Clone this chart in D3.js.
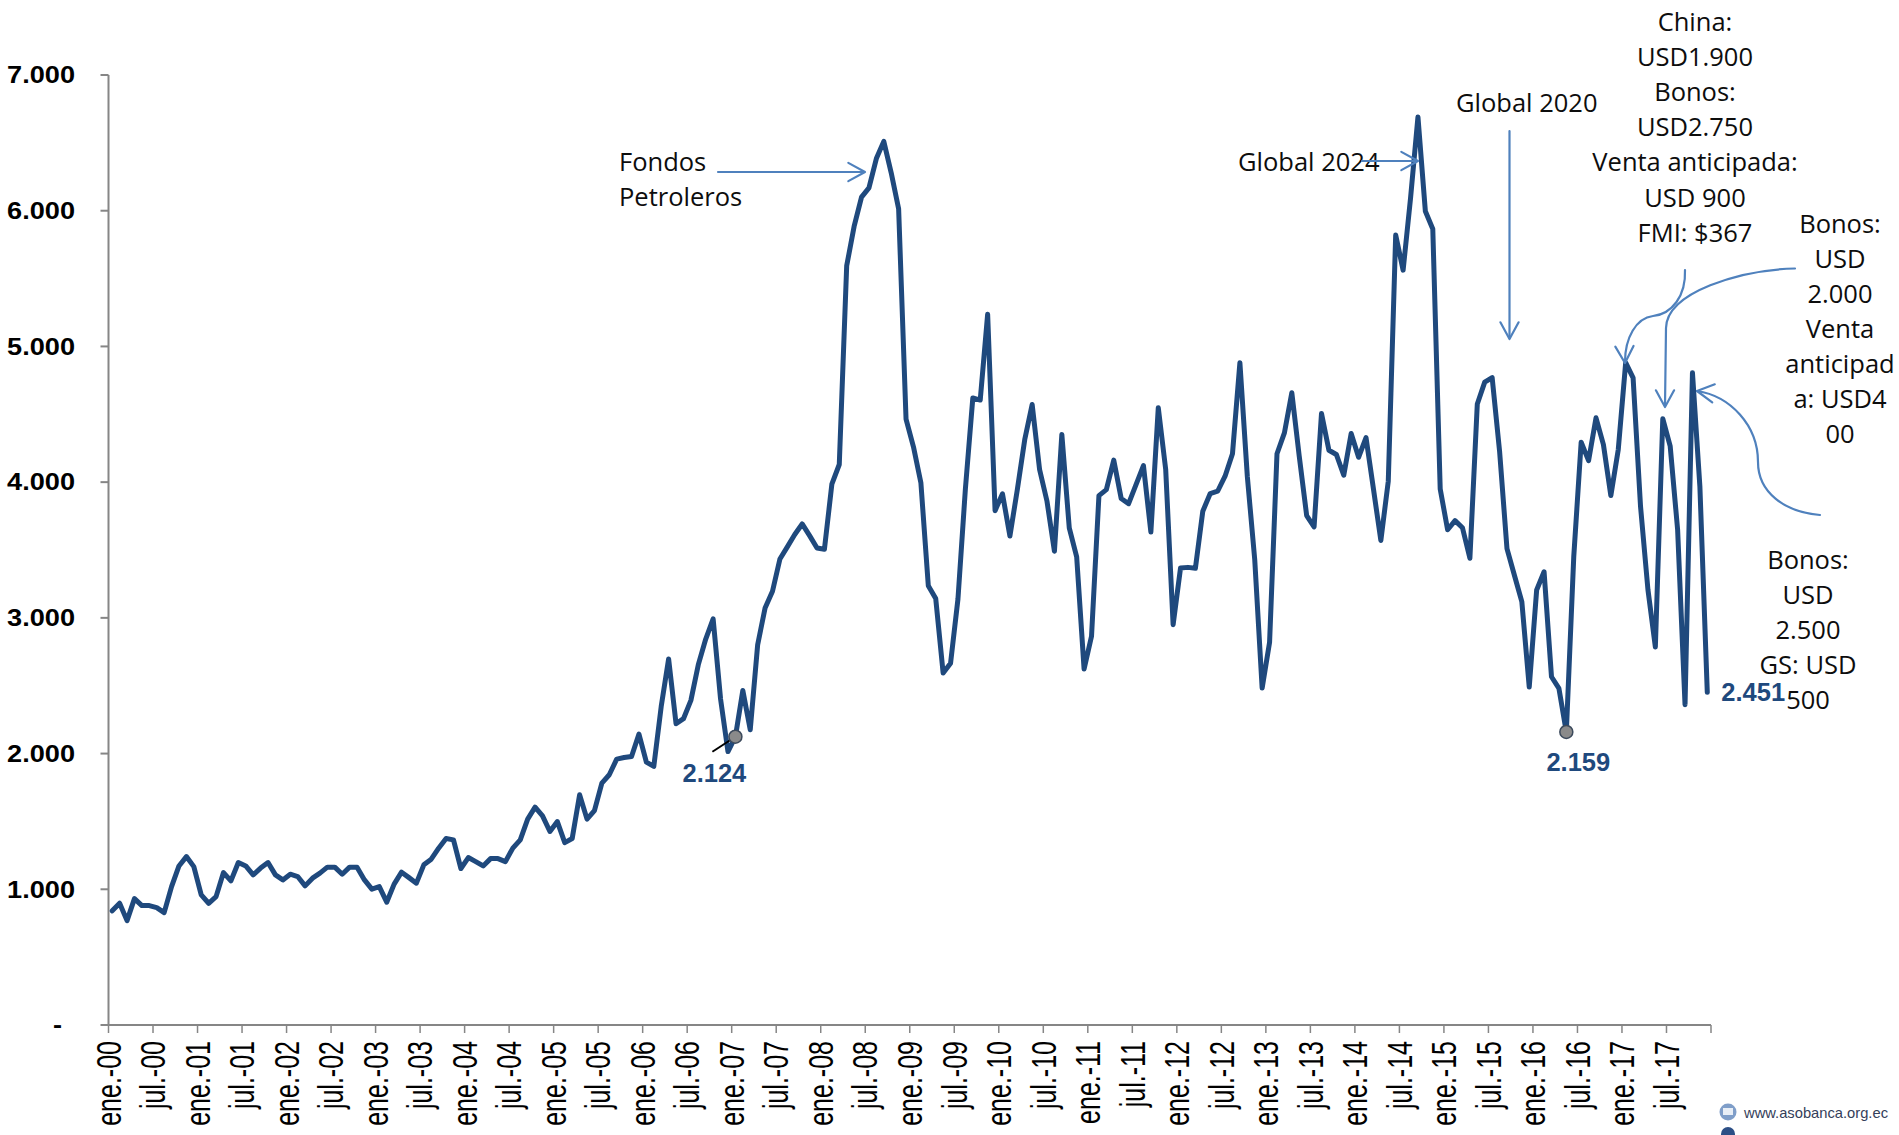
<!DOCTYPE html>
<html><head><meta charset="utf-8">
<script src="https://cdn.jsdelivr.net/npm/d3@7"></script>
<style>body{margin:0;background:#fff} svg{display:block}</style>
</head><body>
<svg id="chart" width="1899" height="1135"></svg>
<script>
// ---------- DATA ----------
const years = ["00","01","02","03","04","05","06","07","08","09","10","11","12","13","14","15","16","17"];
const monthNames = ["ene.","feb.","mar.","abr.","may.","jun.","jul.","ago.","sep.","oct.","nov.","dic."];
const categories = years.flatMap(y => monthNames.map(m => m + "-" + y));

const reservas = [
  841, 897, 769, 931, 880, 880, 865, 828, 1020, 1172, 1241, 1167,      // 2000
  959, 897, 946, 1123, 1062, 1197, 1172, 1106, 1156, 1197, 1106, 1069,  // 2001
  1111, 1094, 1025, 1082, 1119, 1163, 1163, 1111, 1163, 1163, 1069, 1001, // 2002
  1020, 905, 1038, 1126, 1086, 1045, 1180, 1222, 1303, 1374, 1364, 1153, // 2003
  1234, 1204, 1172, 1226, 1226, 1204, 1303, 1364, 1517, 1605, 1541, 1426, // 2004
  1499, 1344, 1374, 1696, 1517, 1580, 1782, 1844, 1959, 1971, 1979, 2144, // 2005
  1937, 1905, 2347, 2697, 2220, 2257, 2392, 2655, 2844, 2992, 2402, 2015, // 2006
  2124, 2465, 2175, 2802, 3073, 3196, 3434, 3523, 3614, 3692, 3606, 3515, // 2007
  3505, 3985, 4130, 5594, 5884, 6100, 6168, 6384, 6511, 6279, 6015, 4465, // 2008
  4260, 3996, 3237, 3142, 2593, 2666, 3140, 3950, 4620, 4605, 5237, 3790, // 2009
  3914, 3603, 3945, 4314, 4572, 4093, 3859, 3491, 4351, 3663, 3449, 2623, // 2010
  2864, 3901, 3945, 4162, 3880, 3841, 3982, 4122, 3632, 4548, 4093, 2950, // 2011
  3368, 3372, 3365, 3786, 3916, 3933, 4044, 4209, 4880, 4044, 3429, 2483, // 2012
  2819, 4209, 4363, 4659, 4191, 3754, 3670, 4506, 4235, 4204, 4051, 4358, // 2013
  4183, 4328, 3950, 3570, 4007, 5821, 5562, 6092, 6690, 5996, 5865, 3949, // 2014
  3649, 3716, 3664, 3439, 4576, 4737, 4771, 4230, 3510, 3314, 3120, 2490, // 2015
  3205, 3340, 2566, 2480, 2159, 3450, 4294, 4159, 4474, 4277, 3901, 4240, // 2016
  4880, 4769, 3822, 3208, 2785, 4467, 4265, 3650, 2360, 4806, 3970, 2451  // 2017
];

const yTicks = [0, 1000, 2000, 3000, 4000, 5000, 6000, 7000];
const xTickIndexes = d3.range(0, categories.length + 1, 6);
const xTickLabels = categories.filter((d, i) => i % 6 === 0);

const markedPoints = [
  { index: 84,  label: "2.124" },
  { index: 196, label: "2.159" }
];
const lastPoint = { index: 215, label: "2.451" };

const annotations = {
  fondos: ["Fondos", "Petroleros"],
  global2024: ["Global 2024"],
  global2020: ["Global 2020"],
  china: ["China:", "USD1.900", "Bonos:", "USD2.750", "Venta anticipada:", "USD 900", "FMI: $367"],
  bonos2000: ["Bonos:", "USD", "2.000", "Venta", "anticipad", "a: USD4", "00"],
  bonos2500: ["Bonos:", "USD", "2.500", "GS: USD", "500"]
};

// ---------- CHART ----------
const svg = d3.select("#chart");
const X0 = 108.5, X1 = 1711, Y0 = 1025, Y1 = 75;
const x = d3.scaleLinear().domain([0, categories.length]).range([X0, X1]);
const y = d3.scaleLinear().domain([0, 7000]).range([Y0, Y1]);

const lineColor = "#1F497D";
const arrowColor = "#4F81BD";
const axisColor = "#868686";
const annFont = "'Open Sans', 'Noto Sans', sans-serif";

// Y axis
const yAxis = svg.append("g").attr("transform", `translate(${X0},0)`);
yAxis.append("line").attr("x1", 0).attr("x2", 0).attr("y1", Y1).attr("y2", Y0 + 1)
  .attr("stroke", axisColor).attr("stroke-width", 2);
yTicks.forEach(t => {
  yAxis.append("line").attr("x1", -8).attr("x2", 0).attr("y1", y(t)).attr("y2", y(t))
    .attr("stroke", axisColor).attr("stroke-width", 2);
  const lbl = t === 0 ? "-" : d3.format(",")(t).replace(/,/g, ".");
  const tx = t === 0 ? -46.5 : -33.5;
  yAxis.append("text")
    .attr("transform", `translate(${tx},${y(t)}) scale(1.18,1)`)
    .attr("dy", "0.36em")
    .attr("text-anchor", "end")
    .style("font-family", "'Liberation Sans', Arial, sans-serif")
    .style("font-weight", "bold")
    .style("font-size", "23px")
    .attr("fill", "#000")
    .text(lbl);
});

// X axis
const xAxis = svg.append("g");
xAxis.append("line").attr("x1", X0 - 1).attr("x2", X1).attr("y1", Y0).attr("y2", Y0)
  .attr("stroke", axisColor).attr("stroke-width", 2);
xTickIndexes.forEach((ti, k) => {
  xAxis.append("line").attr("x1", x(ti)).attr("x2", x(ti)).attr("y1", Y0).attr("y2", Y0 + 8)
    .attr("stroke", axisColor).attr("stroke-width", 1.5);
  if (k < xTickLabels.length) {
    xAxis.append("text")
      .attr("transform", `translate(${x(ti)},1041) scale(1.4,1) rotate(-90)`)
      .attr("dy", "0.35em")
      .attr("text-anchor", "end")
      .style("font-family", "'Liberation Sans', Arial, sans-serif")
      .style("font-size", "25px")
      .attr("fill", "#000")
      .text(xTickLabels[k]);
  }
});

// Line
const line = d3.line().x((d, i) => x(i + 0.5)).y(d => y(d));
svg.append("path").datum(reservas).attr("d", line)
  .attr("fill", "none").attr("stroke", lineColor).attr("stroke-width", 5)
  .attr("stroke-linejoin", "round").attr("stroke-linecap", "round");

// Marked points
const labelFont = "'Liberation Sans', Arial, sans-serif";
const p0 = markedPoints[0];
svg.append("line")
  .attr("x1", x(p0.index + 0.5)).attr("y1", y(reservas[p0.index]))
  .attr("x2", x(p0.index + 0.5) - 23).attr("y2", y(reservas[p0.index]) + 15)
  .attr("stroke", "#000").attr("stroke-width", 2);
markedPoints.forEach(p => {
  svg.append("circle").attr("cx", x(p.index + 0.5)).attr("cy", y(reservas[p.index])).attr("r", 6.5)
    .attr("fill", "#8a8a8a").attr("stroke", "#3c4a5c").attr("stroke-width", 1.5);
});
svg.append("text").attr("x", x(p0.index + 0.5) - 21).attr("y", y(reservas[p0.index]) + 45)
  .attr("text-anchor", "middle").style("font-family", labelFont).style("font-weight", "bold")
  .style("font-size", "25.5px").attr("fill", lineColor).text(p0.label);
const p1 = markedPoints[1];
svg.append("text").attr("x", x(p1.index + 0.5) + 12).attr("y", y(reservas[p1.index]) + 39)
  .attr("text-anchor", "middle").style("font-family", labelFont).style("font-weight", "bold")
  .style("font-size", "25.5px").attr("fill", lineColor).text(p1.label);
svg.append("text").attr("x", x(lastPoint.index + 0.5) + 14).attr("y", y(reservas[lastPoint.index]) + 9)
  .attr("text-anchor", "start").style("font-family", labelFont).style("font-weight", "bold")
  .style("font-size", "25.5px").attr("fill", lineColor).text(lastPoint.label);

// Annotations text
function block(lines, cx, baseline, anchor) {
  const t = svg.append("text").attr("text-anchor", anchor)
    .style("font-family", annFont).style("font-size", "25.5px").attr("fill", "#0d0d0d");
  lines.forEach((l, i) => t.append("tspan").attr("x", cx).attr("y", baseline + i * 35.1).text(l));
}
block(annotations.fondos, 619, 171, "start");
block(annotations.global2024, 1238, 171, "start");
block(annotations.global2020, 1456, 112, "start");
block(annotations.china, 1695, 31, "middle");
block(annotations.bonos2000, 1840, 232.5, "middle");
block(annotations.bonos2500, 1808, 569, "middle");

// Arrows
const arr = svg.append("g").attr("fill", "none").attr("stroke", arrowColor)
  .attr("stroke-width", 2.2).attr("stroke-linecap", "round").attr("stroke-linejoin", "round");
function head(tx, ty, angleDeg) {
  const a = angleDeg * Math.PI / 180, L = 19, w = 0.5;
  const p1 = [tx - L * Math.cos(a - w), ty - L * Math.sin(a - w)];
  const p2 = [tx - L * Math.cos(a + w), ty - L * Math.sin(a + w)];
  arr.append("path").attr("d", `M${p1[0]},${p1[1]} L${tx},${ty} L${p2[0]},${p2[1]}`);
}
// Fondos Petroleros
arr.append("path").attr("d", "M718,172 L864,172"); head(865, 172, 0);
// Global 2024
arr.append("path").attr("d", "M1362,161 L1417,161"); head(1418, 161, 0);
// Global 2020
arr.append("path").attr("d", "M1509.5,131 L1509.5,338"); head(1509.5, 339, 90);
// China block -> peak ene-17
arr.append("path").attr("d", "M1685,270 C1686,296 1672,314 1653,316 C1636,318 1625,338 1625,362");
head(1625, 363, 88);
// Bonos 2.000 -> mar-17
arr.append("path").attr("d", "M1795,268.5 C1740,270 1667,292 1666,328 L1665,406");
head(1665, 407, 90);
// Bonos 2.500 -> oct-17
arr.append("path").attr("d", "M1820,515 C1784,512 1758,492 1758,462 C1758,425 1730,396 1697,391");
head(1697, 391, 188);

// Logo
const logo = svg.append("g");
logo.append("circle").attr("cx", 1728).attr("cy", 1112).attr("r", 8.5).attr("fill", "#7f9ec9");
logo.append("rect").attr("x", 1723).attr("y", 1108).attr("width", 10).attr("height", 7).attr("fill", "#e8eef6");
logo.append("circle").attr("cx", 1728).attr("cy", 1134).attr("r", 7).attr("fill", "#2c4f86");
logo.append("text").attr("x", 1744).attr("y", 1118).attr("textLength", 144).attr("lengthAdjust", "spacingAndGlyphs")
  .style("font-family", "'Liberation Sans', Arial, sans-serif").style("font-size", "14.5px")
  .attr("fill", "#34405a").text("www.asobanca.org.ec");
</script>
</body></html>
